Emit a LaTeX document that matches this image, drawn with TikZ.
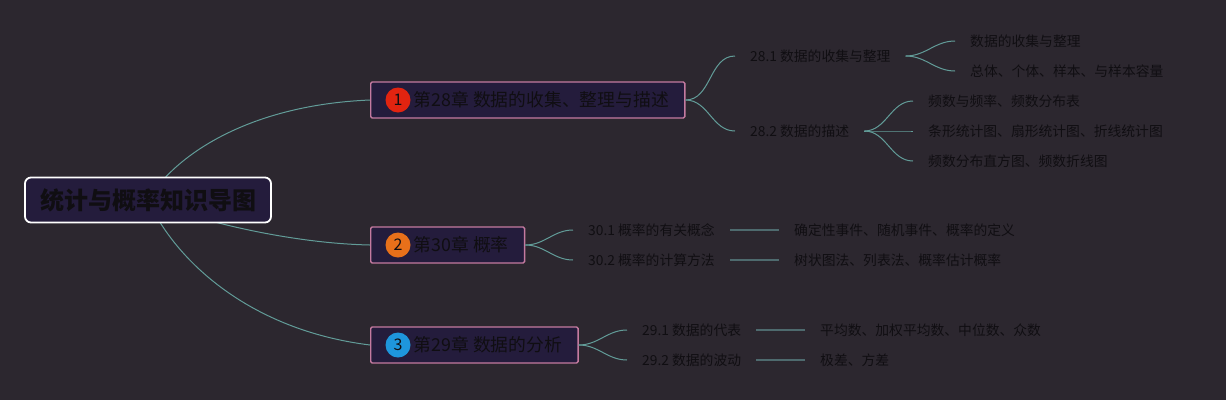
\documentclass[tikz,border=0pt]{standalone}
\usepackage{fontspec}
\setmainfont{Noto Sans CJK SC}
\definecolor{bgdark}{RGB}{44,39,47}
\definecolor{boxfill}{RGB}{36,28,60}
\definecolor{boxpink}{RGB}{196,122,160}
\definecolor{inkdark}{RGB}{16,14,18}
\definecolor{linkteal}{RGB}{98,156,152}
\definecolor{linkgray}{RGB}{78,106,110}
\definecolor{badgered}{RGB}{226,36,16}
\definecolor{badgeorange}{RGB}{232,112,26}
\definecolor{badgeblue}{RGB}{30,150,220}
\pgfdeclarelayer{back}
\pgfsetlayers{back,main}
\begin{document}
\begin{tikzpicture}[x=1pt,y=-1pt,
  rootbox/.style={draw=white,line width=1.8pt,rounded corners=6pt,fill=boxfill,text=inkdark,
    minimum height=45pt,inner xsep=15pt,font=\fontsize{24}{26}\selectfont\bfseries},
  chapbox/.style={draw=boxpink,line width=1.4pt,rounded corners=1.5pt,fill=boxfill,text=inkdark,
    minimum height=36pt,inner xsep=16pt,anchor=west,font=\fontsize{17.8}{20}\selectfont},
  badge/.style={circle,minimum size=25pt,inner sep=0pt,text=inkdark,font=\fontsize{16}{18}\selectfont},
  subtopic/.style={text=inkdark,inner xsep=15pt,inner ysep=2pt,anchor=west,font=\fontsize{13.8}{16}\selectfont},
  leaftopic/.style={text=inkdark,inner xsep=15pt,inner ysep=2pt,anchor=west,font=\fontsize{13.8}{16}\selectfont},
  branch/.style={draw=linkteal,line width=1pt},
  flatlink/.style={draw=linkgray,line width=1.4pt}]

\node[rootbox] (root) at (148,200) {统计与概率知识导图};

\node[chapbox] (ch28) at (370,100) {\hspace*{27pt}第28章 数据的收集、整理与描述};
\node[chapbox] (ch30) at (370,245) {\hspace*{27pt}第30章 概率};
\node[chapbox] (ch29) at (370,345) {\hspace*{27pt}第29章 数据的分析};
\node[badge,fill=badgered] (b28) at ([xshift=28pt]ch28.west) {1};
\node[badge,fill=badgeorange] (b30) at ([xshift=28pt]ch30.west) {2};
\node[badge,fill=badgeblue] (b29) at ([xshift=28pt]ch29.west) {3};

\node[subtopic] (s281) at (735,56) {28.1 数据的收集与整理};
\node[subtopic] (s282) at (735,131) {28.2 数据的描述};
\node[subtopic] (s301) at (573,230) {30.1 概率的有关概念};
\node[subtopic] (s302) at (573,260) {30.2 概率的计算方法};
\node[subtopic] (s291) at (627,330) {29.1 数据的代表};
\node[subtopic] (s292) at (627,360) {29.2 数据的波动};

\node[leaftopic] (l2811) at (955,41) {数据的收集与整理};
\node[leaftopic] (l2812) at (955,71) {总体、个体、样本、与样本容量};
\node[leaftopic] (l2821) at (913,101) {频数与频率、频数分布表};
\node[leaftopic] (l2822) at (913,131) {条形统计图、扇形统计图、折线统计图};
\node[leaftopic] (l2823) at (913,161) {频数分布直方图、频数折线图};
\node[leaftopic] (l301) at (779,230) {确定性事件、随机事件、概率的定义};
\node[leaftopic] (l302) at (779,260) {树状图法、列表法、概率估计概率};
\node[leaftopic] (l291) at (805,330) {平均数、加权平均数、中位数、众数};
\node[leaftopic] (l292) at (805,360) {极差、方差};

\begin{pgfonlayer}{back}
\fill[bgdark] (0,0) rectangle (1226,400);
\draw[branch] (root.center) .. controls +(27,-45) and +(-121,5) .. (ch28.west);
\draw[branch] (root.center) .. controls +(32,15) and +(-91,-2) .. (ch30.west);
\draw[branch] (root.center) .. controls +(27,60) and +(-121,-15) .. (ch29.west);
\end{pgfonlayer}

\draw[branch] (ch28.east) to[out=0,in=180] (s281.west);
\draw[branch] (ch28.east) to[out=0,in=180] (s282.west);
\draw[branch] (s281.east) to[out=0,in=180] (l2811.west);
\draw[branch] (s281.east) to[out=0,in=180] (l2812.west);
\draw[branch] (s282.east) to[out=0,in=180] (l2821.west);
\draw[branch] (s282.east) to[out=0,in=180] (l2822.west);
\draw[branch] (s282.east) to[out=0,in=180] (l2823.west);

\draw[branch] (ch30.east) to[out=0,in=180] (s301.west);
\draw[branch] (ch30.east) to[out=0,in=180] (s302.west);
\draw[flatlink] (s301.east) -- (l301.west);
\draw[flatlink] (s302.east) -- (l302.west);

\draw[branch] (ch29.east) to[out=0,in=180] (s291.west);
\draw[branch] (ch29.east) to[out=0,in=180] (s292.west);
\draw[flatlink] (s291.east) -- (l291.west);
\draw[flatlink] (s292.east) -- (l292.west);

\useasboundingbox (0,0) rectangle (1226,400);
\end{tikzpicture}
\end{document}
